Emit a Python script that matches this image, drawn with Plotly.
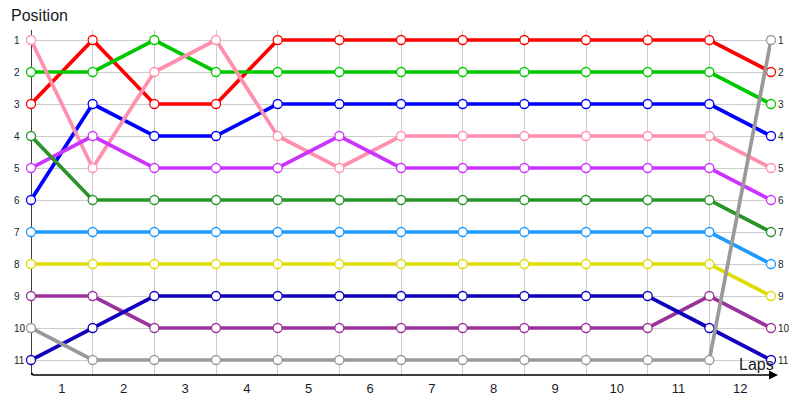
import plotly.graph_objects as go

# laps 0..12, positions 1..11
laps = list(range(0, 13))
lap_labels = [str(i) for i in range(1, 13)]
positions = list(range(1, 12))

red = [3, 1, 3, 3, 1, 1, 1, 1, 1, 1, 1, 1, 2]
green = [2, 2, 1, 2, 2, 2, 2, 2, 2, 2, 2, 2, 3]
blue = [6, 3, 4, 4, 3, 3, 3, 3, 3, 3, 3, 3, 4]
pink = [1, 5, 2, 1, 4, 5, 4, 4, 4, 4, 4, 4, 5]
purple = [5, 4, 5, 5, 5, 4, 5, 5, 5, 5, 5, 5, 6]
dark_green = [4, 6, 6, 6, 6, 6, 6, 6, 6, 6, 6, 6, 7]
light_blue = [7, 7, 7, 7, 7, 7, 7, 7, 7, 7, 7, 7, 8]
yellow = [8, 8, 8, 8, 8, 8, 8, 8, 8, 8, 8, 8, 9]
dark_purple = [9, 9, 10, 10, 10, 10, 10, 10, 10, 10, 10, 9, 10]
navy = [11, 10, 9, 9, 9, 9, 9, 9, 9, 9, 9, 10, 11]
gray = [10, 11, 11, 11, 11, 11, 11, 11, 11, 11, 11, 11, 1]

series = [
    (red, "#ff0000"),
    (green, "#00c800"),
    (blue, "#0000ff"),
    (pink, "#ff8fab"),
    (purple, "#cc33ff"),
    (dark_green, "#2a942a"),
    (light_blue, "#1e9bff"),
    (yellow, "#dddd00"),
    (dark_purple, "#993399"),
    (navy, "#1000bb"),
    (gray, "#999999"),
]

fig = go.Figure()

for values, color in series:
    fig.add_trace(go.Scatter(
        x=laps, y=values, mode="lines+markers",
        line=dict(color=color, width=3.7),
        marker=dict(size=9, color="white", line=dict(color=color, width=1.3)),
        cliponaxis=False, hoverinfo="skip"
    ))

# plot area is 740 x 345 px
y_top = 0.53125
y_bottom = 11.46875

# left position labels, left aligned like the original
annotations = []
for p in positions:
    annotations.append(dict(
        x=-19 / 740, y=p, xref="paper", yref="y", text=str(p), showarrow=False,
        xanchor="left", yanchor="middle", font=dict(size=10, color="#222222")
    ))

# axis titles
annotations.append(dict(
    x=-22 / 740, y=(375 - 15) / 345, xref="paper", yref="paper", text="Position",
    showarrow=False, xanchor="left", yanchor="middle",
    font=dict(size=16, color="#1a1a1a")
))
annotations.append(dict(
    x=745 / 740, y=(375 - 364) / 345, xref="paper", yref="paper", text="Laps",
    showarrow=False, xanchor="right", yanchor="middle",
    font=dict(size=16, color="#1a1a1a")
))

# x axis with arrow
annotations.append(dict(
    x=747 / 740, y=0, xref="paper", yref="paper", text="", showarrow=True,
    ax=-747, ay=0, axref="pixel", ayref="pixel",
    arrowhead=2, arrowsize=1.2, arrowwidth=1.5, arrowcolor="black", standoff=0
))

shapes = [
    dict(type="line", xref="x", yref="y", x0=0, x1=0, y0=y_top, y1=y_bottom,
         line=dict(color="black", width=1.5), layer="below"),
    dict(type="circle", xref="x", yref="y", xsizemode="pixel", ysizemode="pixel",
         xanchor=0, yanchor=y_top, x0=-2.5, x1=2.5, y0=-2.5, y1=2.5,
         fillcolor="black", line=dict(width=0)),
    dict(type="circle", xref="x", yref="y", xsizemode="pixel", ysizemode="pixel",
         xanchor=0, yanchor=y_bottom, x0=-2.5, x1=2.5, y0=-2.5, y1=2.5,
         fillcolor="black", line=dict(width=0)),
]

# page body adds ~8px offset, so margins are trimmed by that
fig.update_layout(
    width=800, height=400,
    margin=dict(l=23, r=37, t=22, b=33, autoexpand=False),
    plot_bgcolor="white", paper_bgcolor="white",
    showlegend=False,
    font=dict(family="Liberation Sans, Arial, sans-serif", color="#222222"),
    xaxis=dict(
        range=[0, 12], automargin=False,
        tickvals=[i + 0.5 for i in range(12)], ticktext=lap_labels,
        showgrid=False, zeroline=False, showline=False, ticks="",
        tickfont=dict(size=13, color="#1a1a2a"),
        ticklabelstandoff=4,
        minor=dict(tickvals=laps[1:], showgrid=True, gridcolor="#cccccc", gridwidth=1),
    ),
    yaxis=dict(
        range=[y_bottom, 0.6875], automargin=False,
        tickvals=positions, ticktext=[str(p) for p in positions],
        side="right",
        showgrid=True, gridcolor="#cccccc", gridwidth=1,
        zeroline=False, showline=False, ticks="",
        tickfont=dict(size=10, color="#222222"),
        ticklabelstandoff=6,
    ),
    annotations=annotations,
    shapes=shapes,
)

fig.write_html("out.html")
